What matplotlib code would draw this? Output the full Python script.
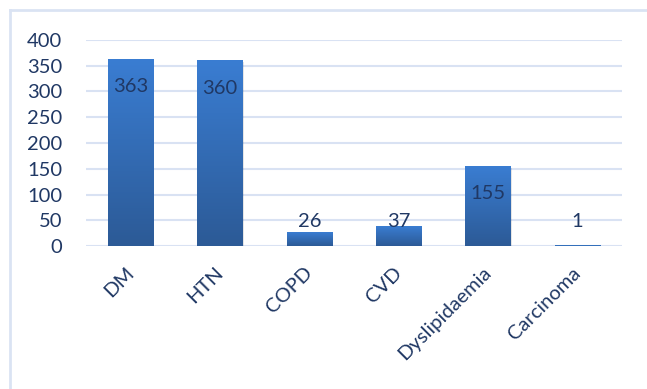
import numpy as np
import matplotlib
matplotlib.use("Agg")
import matplotlib.pyplot as plt
import matplotlib.transforms as mtransforms
from matplotlib.colors import LinearSegmentedColormap

# disease counts
categories = ["DM", "HTN", "COPD", "CVD", "Dyslipidaemia", "Carcinoma"]
counts = [363, 360, 26, 37, 155, 1]

plt.rcParams['font.family'] = ['Lato', 'DejaVu Sans']
text_color = '#203864'

fig = plt.figure(figsize=(6.47, 3.89), dpi=100)
ax = fig.add_axes([86 / 647, (389 - 246) / 389, 536 / 647, 206 / 389])

xx = np.arange(len(categories))
bars = ax.bar(xx, counts, width=0.51, color='none', zorder=3)

# blue gradient, lighter at the top
grad_cmap = LinearSegmentedColormap.from_list('bluegrad', ['#2C5A96', '#3A7DD2'])
grad = np.linspace(0, 1, 256).reshape(-1, 1)
for b in bars:
    x0, y0 = b.get_x(), b.get_y()
    w, h = b.get_width(), b.get_height()
    # soft shadow under the bar
    ax.bar(x0 + w / 2 + 0.01, h, width=w, bottom=-3, color='#000000',
           alpha=0.10, zorder=2)
    ax.imshow(grad, cmap=grad_cmap, origin='lower', aspect='auto',
              extent=(x0, x0 + w, y0, y0 + h), zorder=4)

for i, v in enumerate(counts):
    ax.text(i, max(v - 54, 48), str(v), ha='center', va='center',
            fontsize=14.5, color=text_color, zorder=5)

ax.set_xlim(-0.5, len(categories) - 0.5)
ax.set_ylim(0, 400)
ax.set_yticks(range(0, 401, 50))
ax.yaxis.grid(True, color='#D9E2F3', linewidth=1.5, zorder=0)
ax.set_axisbelow(True)
for s in ax.spines.values():
    s.set_visible(False)
ax.tick_params(axis='y', length=0, pad=17, labelsize=14.5, labelcolor=text_color)
ax.tick_params(axis='x', length=0, pad=13, labelsize=14.5, labelcolor=text_color)
ax.set_xticks(xx)
ax.set_xticklabels(categories, rotation=45, ha='right', rotation_mode='anchor')
shift = mtransforms.ScaledTranslation(-4 / 72, 0, fig.dpi_scale_trans)
for lbl in ax.get_xticklabels():
    lbl.set_transform(lbl.get_transform() + shift)

# chart frame
fig.add_artist(plt.Line2D([10 / 647, 10 / 647], [0, 1 - 10 / 389],
                          transform=fig.transFigure, color='#DAE3F3', lw=2))
fig.add_artist(plt.Line2D([10 / 647, 1], [1 - 10 / 389, 1 - 10 / 389],
                          transform=fig.transFigure, color='#DAE3F3', lw=2))

fig.savefig('out.png', dpi=100)
